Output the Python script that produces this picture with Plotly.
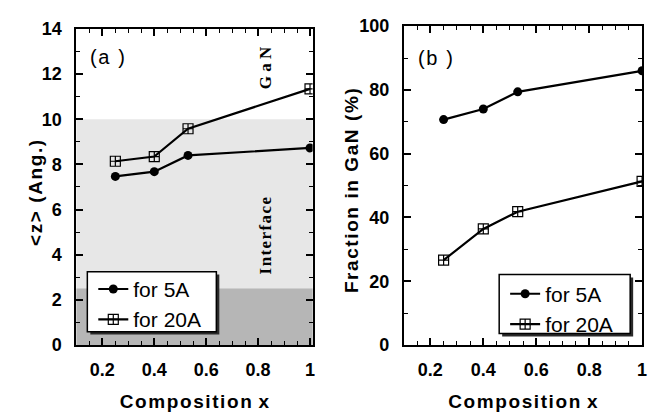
import plotly.graph_objects as go

# ---- data ----
composition = [0.25, 0.40, 0.53, 1.00]
z_5A = [7.47, 7.68, 8.40, 8.73]
z_20A = [8.14, 8.35, 9.58, 11.35]
frac_5A = [70.7, 74.0, 79.4, 86.0]
frac_20A = [26.6, 36.4, 41.8, 51.3]
interface_top = 10.0
dark_top = 2.5
x_ticks = [0.2, 0.4, 0.6, 0.8, 1.0]
x_ticktext = ["0.2", "0.4", "0.6", "0.8", "1"]
series_names = ["for 5A", "for 20A"]

W, H = 659, 413
HS = "\u200a"  # hair space for letter spacing


def spaced(s):
    return HS.join(s)


SANS = "Liberation Sans, Arial, sans-serif"
SERIF = "Liberation Serif, Times New Roman, serif"
TICK = dict(family=SANS, size=18, color="black", weight="bold")
TITLE = dict(family=SANS, size=19, color="black", weight="bold")
LEG = dict(family=SANS, size=21, color="black")

fig = go.Figure()


def add_pair(xref, yref, y5, y20, legend):
    fig.add_trace(go.Scatter(x=composition, y=y5, xaxis=xref, yaxis=yref, name=series_names[0],
                             mode="lines+markers", legend=legend,
                             line=dict(color="black", width=2.2),
                             marker=dict(symbol="circle", size=9, color="black")))
    fig.add_trace(go.Scatter(x=composition, y=y20, xaxis=xref, yaxis=yref, name=series_names[1],
                             mode="lines+markers", legend=legend,
                             line=dict(color="black", width=2.2),
                             marker=dict(symbol="square-cross-open", size=10, color="black",
                                         line=dict(width=1.2))))


add_pair("x", "y", z_5A, z_20A, "legend")
add_pair("x2", "y2", frac_5A, frac_20A, "legend2")

axis_common = dict(showline=True, linecolor="black", linewidth=2, mirror="allticks",
                   ticks="inside", ticklen=7, tickwidth=1.6, tickcolor="black",
                   tickfont=TICK, showgrid=False, zeroline=False)
minor_common = dict(ticks="inside", ticklen=4, tickcolor="black", tickwidth=1.3)

xtitle = spaced("Composition") + " " + HS + "x"

fig.update_layout(
    width=W, height=H, margin=dict(l=0, r=0, t=0, b=0),
    paper_bgcolor="white", plot_bgcolor="white",
    xaxis=dict(domain=[77 / W, 315 / W], range=[0.1, 1.01], tickvals=x_ticks, ticktext=x_ticktext,
               minor=dict(dtick=0.05, **minor_common), ticklabelstandoff=7,
               title=dict(text=xtitle, font=TITLE, standoff=16),
               anchor="y", **axis_common),
    yaxis=dict(domain=[1 - 352 / H, 1 - 20 / H], range=[0, 14], dtick=2,
               minor=dict(dtick=1, **minor_common), ticklabelstandoff=9,
               anchor="x", **axis_common),
    xaxis2=dict(domain=[407 / W, 647 / W], range=[0.1, 1.0], tickvals=x_ticks, ticktext=x_ticktext,
                minor=dict(dtick=0.05, **minor_common), ticklabelstandoff=7,
                title=dict(text=xtitle, font=TITLE, standoff=16),
                anchor="y2", **axis_common),
    yaxis2=dict(domain=[1 - 352 / H, 1 - 17 / H], range=[0, 100], dtick=20,
                minor=dict(dtick=10, **minor_common), ticklabelstandoff=9,
                anchor="x2", **axis_common),
    legend=dict(x=94 / W, y=1 - 272 / H, xanchor="left", yanchor="top", bgcolor="rgba(0,0,0,0)",
                borderwidth=0, font=LEG, tracegroupgap=0),
    legend2=dict(x=509 / W, y=1 - 277 / H, xanchor="left", yanchor="top", bgcolor="rgba(0,0,0,0)",
                 borderwidth=0, font=LEG, tracegroupgap=0),
)

# y-axis titles as rotated annotations (pixel positions converted to paper coords)
fig.add_annotation(xref="paper", yref="paper", x=23 / W, y=1 - 192 / H, showarrow=False,
                   text=spaced("<z> (Ang.)").replace("<", "&lt;").replace(">", "&gt;"),
                   textangle=-90, font=TITLE)
fig.add_annotation(xref="paper", yref="paper", x=354 / W, y=1 - 190 / H, showarrow=False,
                   text=spaced("Fraction in GaN (%)"), textangle=-90, font=TITLE)

# shaded regions in panel (a)
fig.add_shape(type="rect", xref="x domain", yref="y", x0=0, x1=1, y0=0, y1=interface_top,
              fillcolor="#e7e7e7", line_width=0, layer="below")
fig.add_shape(type="rect", xref="x domain", yref="y", x0=0, x1=1, y0=0, y1=dark_top,
              fillcolor="#b6b6b6", line_width=0, layer="below")


# legend boxes with drop shadow
def legend_box(x0, x1, y0, y1):
    d = 3
    fig.add_shape(type="rect", xref="paper", yref="paper",
                  x0=(x0 + d) / W, x1=(x1 + d) / W, y0=1 - (y1 + d) / H, y1=1 - (y0 + d) / H,
                  fillcolor="#2a2a2a", line_width=0, layer="above")
    fig.add_shape(type="rect", xref="paper", yref="paper",
                  x0=x0 / W, x1=x1 / W, y0=1 - y1 / H, y1=1 - y0 / H,
                  fillcolor="white", line=dict(color="black", width=1.5), layer="above")


legend_box(88, 218, 275, 338)
legend_box(503, 635, 278, 340)

# annotations
fig.add_annotation(xref="x", yref="y", x=0.219, y=12.74, text=spaced("(a )"), showarrow=False,
                   font=dict(family=SANS, size=20, color="black"))
fig.add_annotation(xref="x2", yref="y2", x=0.219, y=90.1, text=spaced("(b )"), showarrow=False,
                   font=dict(family=SANS, size=20, color="black"))
fig.add_annotation(xref="x", yref="y", x=0.83, y=12.3, text=" ".join("GaN"), showarrow=False,
                   textangle=-90, font=dict(family=SERIF, size=17, color="black", weight="bold"))
fig.add_annotation(xref="x", yref="y", x=0.83, y=4.85, text=spaced("Interface"), showarrow=False,
                   textangle=-90, font=dict(family=SERIF, size=17, color="black", weight="bold"))

fig.write_html("out.html")
